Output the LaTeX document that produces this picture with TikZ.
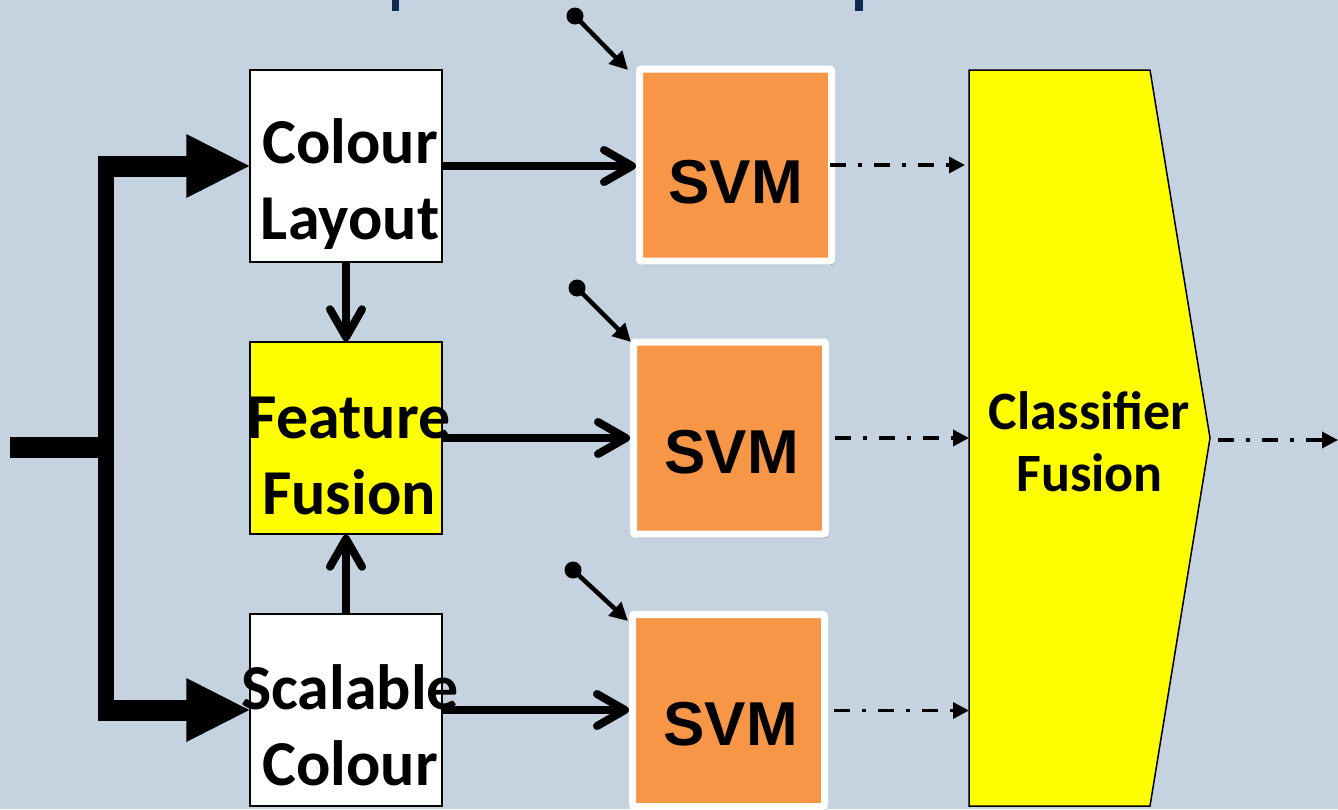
\documentclass[tikz,border=0pt]{standalone}
\usepackage{fontspec}
\setmainfont{Carlito}
\newfontfamily\svmfont{Liberation Sans}
\usetikzlibrary{arrows.meta,shadows}
\definecolor{bg}{HTML}{C5D3E0}
\definecolor{svmorange}{HTML}{F79646}
\definecolor{titleblue}{HTML}{0E2A50}
\definecolor{yel}{HTML}{FFFF00}
\tikzset{
  featbox/.style={draw=black, line width=1.5pt, minimum width=192pt, minimum height=192pt, inner sep=0pt},
  boxtext/.style={font=\fontsize{64}{76}\selectfont\bfseries, align=center, inner sep=0pt},
  cftext/.style={font=\fontsize{54}{62}\selectfont\bfseries, align=center, inner sep=0pt},
  svmbox/.style={draw=white, line width=7pt, fill=svmorange, minimum size=192pt, inner sep=0pt,
    rounded corners=2pt, drop shadow={shadow xshift=2pt, shadow yshift=-4pt, opacity=0.25, fill=black}},
  svmtext/.style={font=\svmfont\fontsize{62}{62}\selectfont\bfseries, inner sep=0pt},
  mainarrow/.style={line width=8pt, -{Straight Barb[length=28pt, width=32pt, round]}},
  smallarrow/.style={line width=4.5pt, -{Triangle[length=18pt, width=18pt]}},
  dasharrow/.style={line width=3.5pt, dash pattern=on 16pt off 12pt on 4pt off 12pt, -{Triangle[length=16pt, width=16pt]}},
  busline/.style={line width=21pt},
  dotend/.style={circle, fill=black, minimum size=17pt, inner sep=0pt}
}
\begin{document}
\begin{tikzpicture}[x=1pt,y=-1pt]
\fill[bg] (0,0) rectangle (1338,809);
\useasboundingbox (0,0) rectangle (1338,809);
% remnants of title text
\fill[titleblue] (392,0) rectangle (399,11);
\fill[titleblue] (855,0) rectangle (863,11);

% feature boxes
\node[featbox, fill=white] (cl) at (346,166) {};
\node[featbox, fill=yel]   (ff) at (346,438) {};
\node[featbox, fill=white] (sc) at (346,710) {};

% SVM boxes
\node[svmbox] (s1) at (735.5,165) {};
\node[svmbox] (s2) at (729.5,438) {};
\node[svmbox] (s3) at (728.5,710.5) {};

% classifier fusion
\node[minimum width=181pt, minimum height=736pt, inner sep=0pt, outer sep=0pt] (cf) at (1059.5,438) {};
\draw[line width=1.5pt, fill=yel, line join=miter]
  (cf.north west) -- (cf.north east) -- ([xshift=60pt]cf.east) -- (cf.south east) -- (cf.south west) -- cycle;

% input bus
\coordinate (in) at (10,447);
\coordinate (jm) at (106,447);
\coordinate (jt) at (98,166);
\coordinate (jb) at (98,710);
\draw[busline] (in) -- (jm);
\draw[busline] (jt) -- ([xshift=-60pt]cl.west);
\draw[busline] (jb) -- ([xshift=-60pt]sc.west);
\draw[line width=16pt] ([shift={(8,-10.5)}]jt) -- ([shift={(8,10.5)}]jb);
\fill ([shift={(-63,-32)}]cl.west) -- (cl.west) -- ([shift={(-63,32)}]cl.west) -- cycle;
\fill ([shift={(-63,-32)}]sc.west) -- (sc.west) -- ([shift={(-63,32)}]sc.west) -- cycle;

% main arrows
\draw[mainarrow] (cl.east) -- (cl.east -| s1.west);
\draw[mainarrow] (ff.east) -- (ff.east -| s2.west);
\draw[mainarrow] (sc.east) -- (sc.east -| s3.west);
\draw[mainarrow] (cl.south) -- (ff.north);
\draw[mainarrow] (sc.north) -- (ff.south);

% small parameter arrows
\node[dotend] (d1) at (575,16) {};
\node[dotend] (d2) at (577,288) {};
\node[dotend] (d3) at (573,570) {};
\draw[smallarrow] (d1.center) -- ([shift={(-8,4.5)}]s1.north west);
\draw[smallarrow] (d2.center) -- ([shift={(1,3.5)}]s2.north west);
\draw[smallarrow] (d3.center) -- ([shift={(-1,10)}]s3.north west);

% dash-dot arrows
\draw[dasharrow, shorten >=4pt] ([xshift=-5pt]s1.east) -- (s1.east -| cf.west);
\draw[dasharrow] ([xshift=6pt]s2.east) -- (s2.east -| cf.west);
\draw[dasharrow] ([xshift=6pt]s3.east) -- (s3.east -| cf.west);
\coordinate (out) at (1338,440);
\draw[dasharrow] ([shift={(68,2)}]cf.east) -- (out);

% texts (y axis points down: positive y shifts move down)
\node[boxtext] (clt) at ([shift={(4,18)}]cl.center) {Colour\\Layout};
\node[boxtext] (fft) at ([shift={(3,18)}]ff.center) {Feature\\Fusion};
\node[boxtext] (sct) at ([shift={(4,15)}]sc.center) {Scalable\\Colour};
\node[svmtext] (s1t) at ([shift={(0,17)}]s1.center) {SVM};
\node[svmtext] (s2t) at ([shift={(2,14)}]s2.center) {SVM};
\node[svmtext] (s3t) at ([shift={(2,14)}]s3.center) {SVM};
\node[cftext] (cft) at ([shift={(30,4)}]cf.center) {Classifier\\Fusion};
\end{tikzpicture}
\end{document}
